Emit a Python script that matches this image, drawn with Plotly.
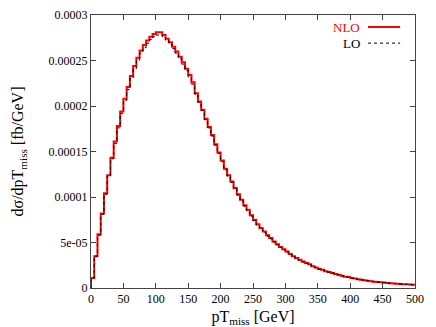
import plotly.graph_objects as go

# 5 GeV bins from 0 to 500 GeV, values in units of 1e-6 fb/GeV
BIN_WIDTH = 5
UNIT = 1e-6

nlo_vals = [
    11, 35, 59, 82, 104, 124, 143, 161, 178, 194,
    208, 221, 233, 244, 253, 261, 267, 272, 276, 279,
    281, 281, 278, 274, 270, 265, 260, 254, 248, 241,
    234, 226, 214, 205, 196, 186, 177, 168, 158, 149,
    140, 131, 124, 117, 110, 103, 97, 91, 86, 80,
    75, 70, 66, 62, 58, 55, 51, 48, 45, 42.5,
    40, 37.5, 35, 33, 31, 29, 27.5, 26, 24, 22.5,
    21, 20, 18.5, 17.5, 16.5, 15.5, 14.5, 13.5, 12.5, 12,
    11, 10.5, 9.5, 9, 8.5, 8, 7.5, 7, 6.7, 6.3,
    6, 5.6, 5.3, 5, 4.7, 4.5, 4.2, 4, 3.8, 3.6,
]

lo_vals = [
    11, 35, 58, 81, 103, 123, 142, 159, 176, 192,
    206, 218, 230, 241, 250, 258, 264, 269, 273, 276,
    278, 278, 276, 272, 268, 263, 258, 252, 246, 239,
    232, 224, 213, 204, 195, 185, 176, 167, 157, 148,
    139, 130, 123, 116, 109, 102, 96, 90, 85, 79,
    74, 69, 65, 61, 57, 54, 50.5, 47.5, 44.5, 42,
    39.5, 37, 34.5, 32.5, 30.5, 28.7, 27.2, 25.7, 23.8, 22.3,
    20.8, 19.8, 18.3, 17.3, 16.3, 15.3, 14.3, 13.3, 12.4, 11.8,
    10.9, 10.3, 9.4, 8.9, 8.4, 7.9, 7.4, 6.9, 6.6, 6.2,
    5.9, 5.5, 5.2, 4.9, 4.6, 4.4, 4.1, 3.9, 3.7, 3.5,
]

x_ticks = [0, 50, 100, 150, 200, 250, 300, 350, 400, 450, 500]
y_ticks = [0, 5e-5, 1e-4, 1.5e-4, 2e-4, 2.5e-4, 3e-4]
y_ticktext = ["0", "5e-05", "0.0001", "0.00015", "0.0002", "0.00025", "0.0003"]


def step_xy(vals):
    """Histogram steps: start at zero, hold each bin, end at last edge"""
    edges = [i * BIN_WIDTH for i in range(len(vals) + 1)]
    ys = [v * UNIT for v in vals]
    x = [edges[0]] + edges
    y = [0] + ys + [ys[-1]]
    return x, y


FONT = "Liberation Serif, Times New Roman, serif"

fig = go.Figure()

x, y = step_xy(nlo_vals)
fig.add_trace(go.Scatter(x=x, y=y, mode="lines", line_shape="hv",
                         line=dict(color="#ff0000", width=2), name="NLO"))
x, y = step_xy(lo_vals)
fig.add_trace(go.Scatter(x=x, y=y, mode="lines", line_shape="hv",
                         line=dict(color="black", width=1, dash="dot"), name="LO"))

axis_common = dict(
    showline=True, linecolor="#444444", linewidth=1, mirror="allticks",
    ticks="inside", ticklen=5, tickcolor="#444444", showgrid=False, zeroline=False,
    tickfont=dict(family=FONT, size=12, color="black"), automargin=False,
)

fig.update_xaxes(range=[0, 500], tickvals=x_ticks,
                 title=dict(text="pT<sub>miss</sub> [GeV]", font=dict(family=FONT, size=16, color="black"),
                            standoff=5),
                 **axis_common)
fig.update_yaxes(range=[0, 3e-4], tickvals=y_ticks, ticktext=y_ticktext,
                 title=dict(text="dσ/dpT<sub>miss</sub> [fb/GeV]", font=dict(family=FONT, size=16, color="black"),
                            standoff=20),
                 **axis_common)

# gnuplot-style key: text left, line sample right
fig.add_annotation(x=0.835, y=0.956, xref="paper", yref="paper", text="NLO", showarrow=False,
                   xanchor="right", yanchor="middle", font=dict(family=FONT, size=13, color="#ff0000"))
fig.add_annotation(x=0.835, y=0.897, xref="paper", yref="paper", text="LO", showarrow=False,
                   xanchor="right", yanchor="middle", font=dict(family=FONT, size=13, color="black"))
fig.add_shape(type="line", xref="paper", yref="paper", x0=0.855, x1=0.954, y0=0.956, y1=0.956,
              line=dict(color="#ff0000", width=2))
fig.add_shape(type="line", xref="paper", yref="paper", x0=0.855, x1=0.954, y0=0.897, y1=0.897,
              line=dict(color="black", width=1, dash="dot"))

fig.update_layout(
    width=436, height=327,
    margin=dict(l=83, r=29, t=7, b=47),
    paper_bgcolor="white", plot_bgcolor="white",
    showlegend=False,
    font=dict(family=FONT, size=12, color="black"),
)

fig.write_html("out.html")
